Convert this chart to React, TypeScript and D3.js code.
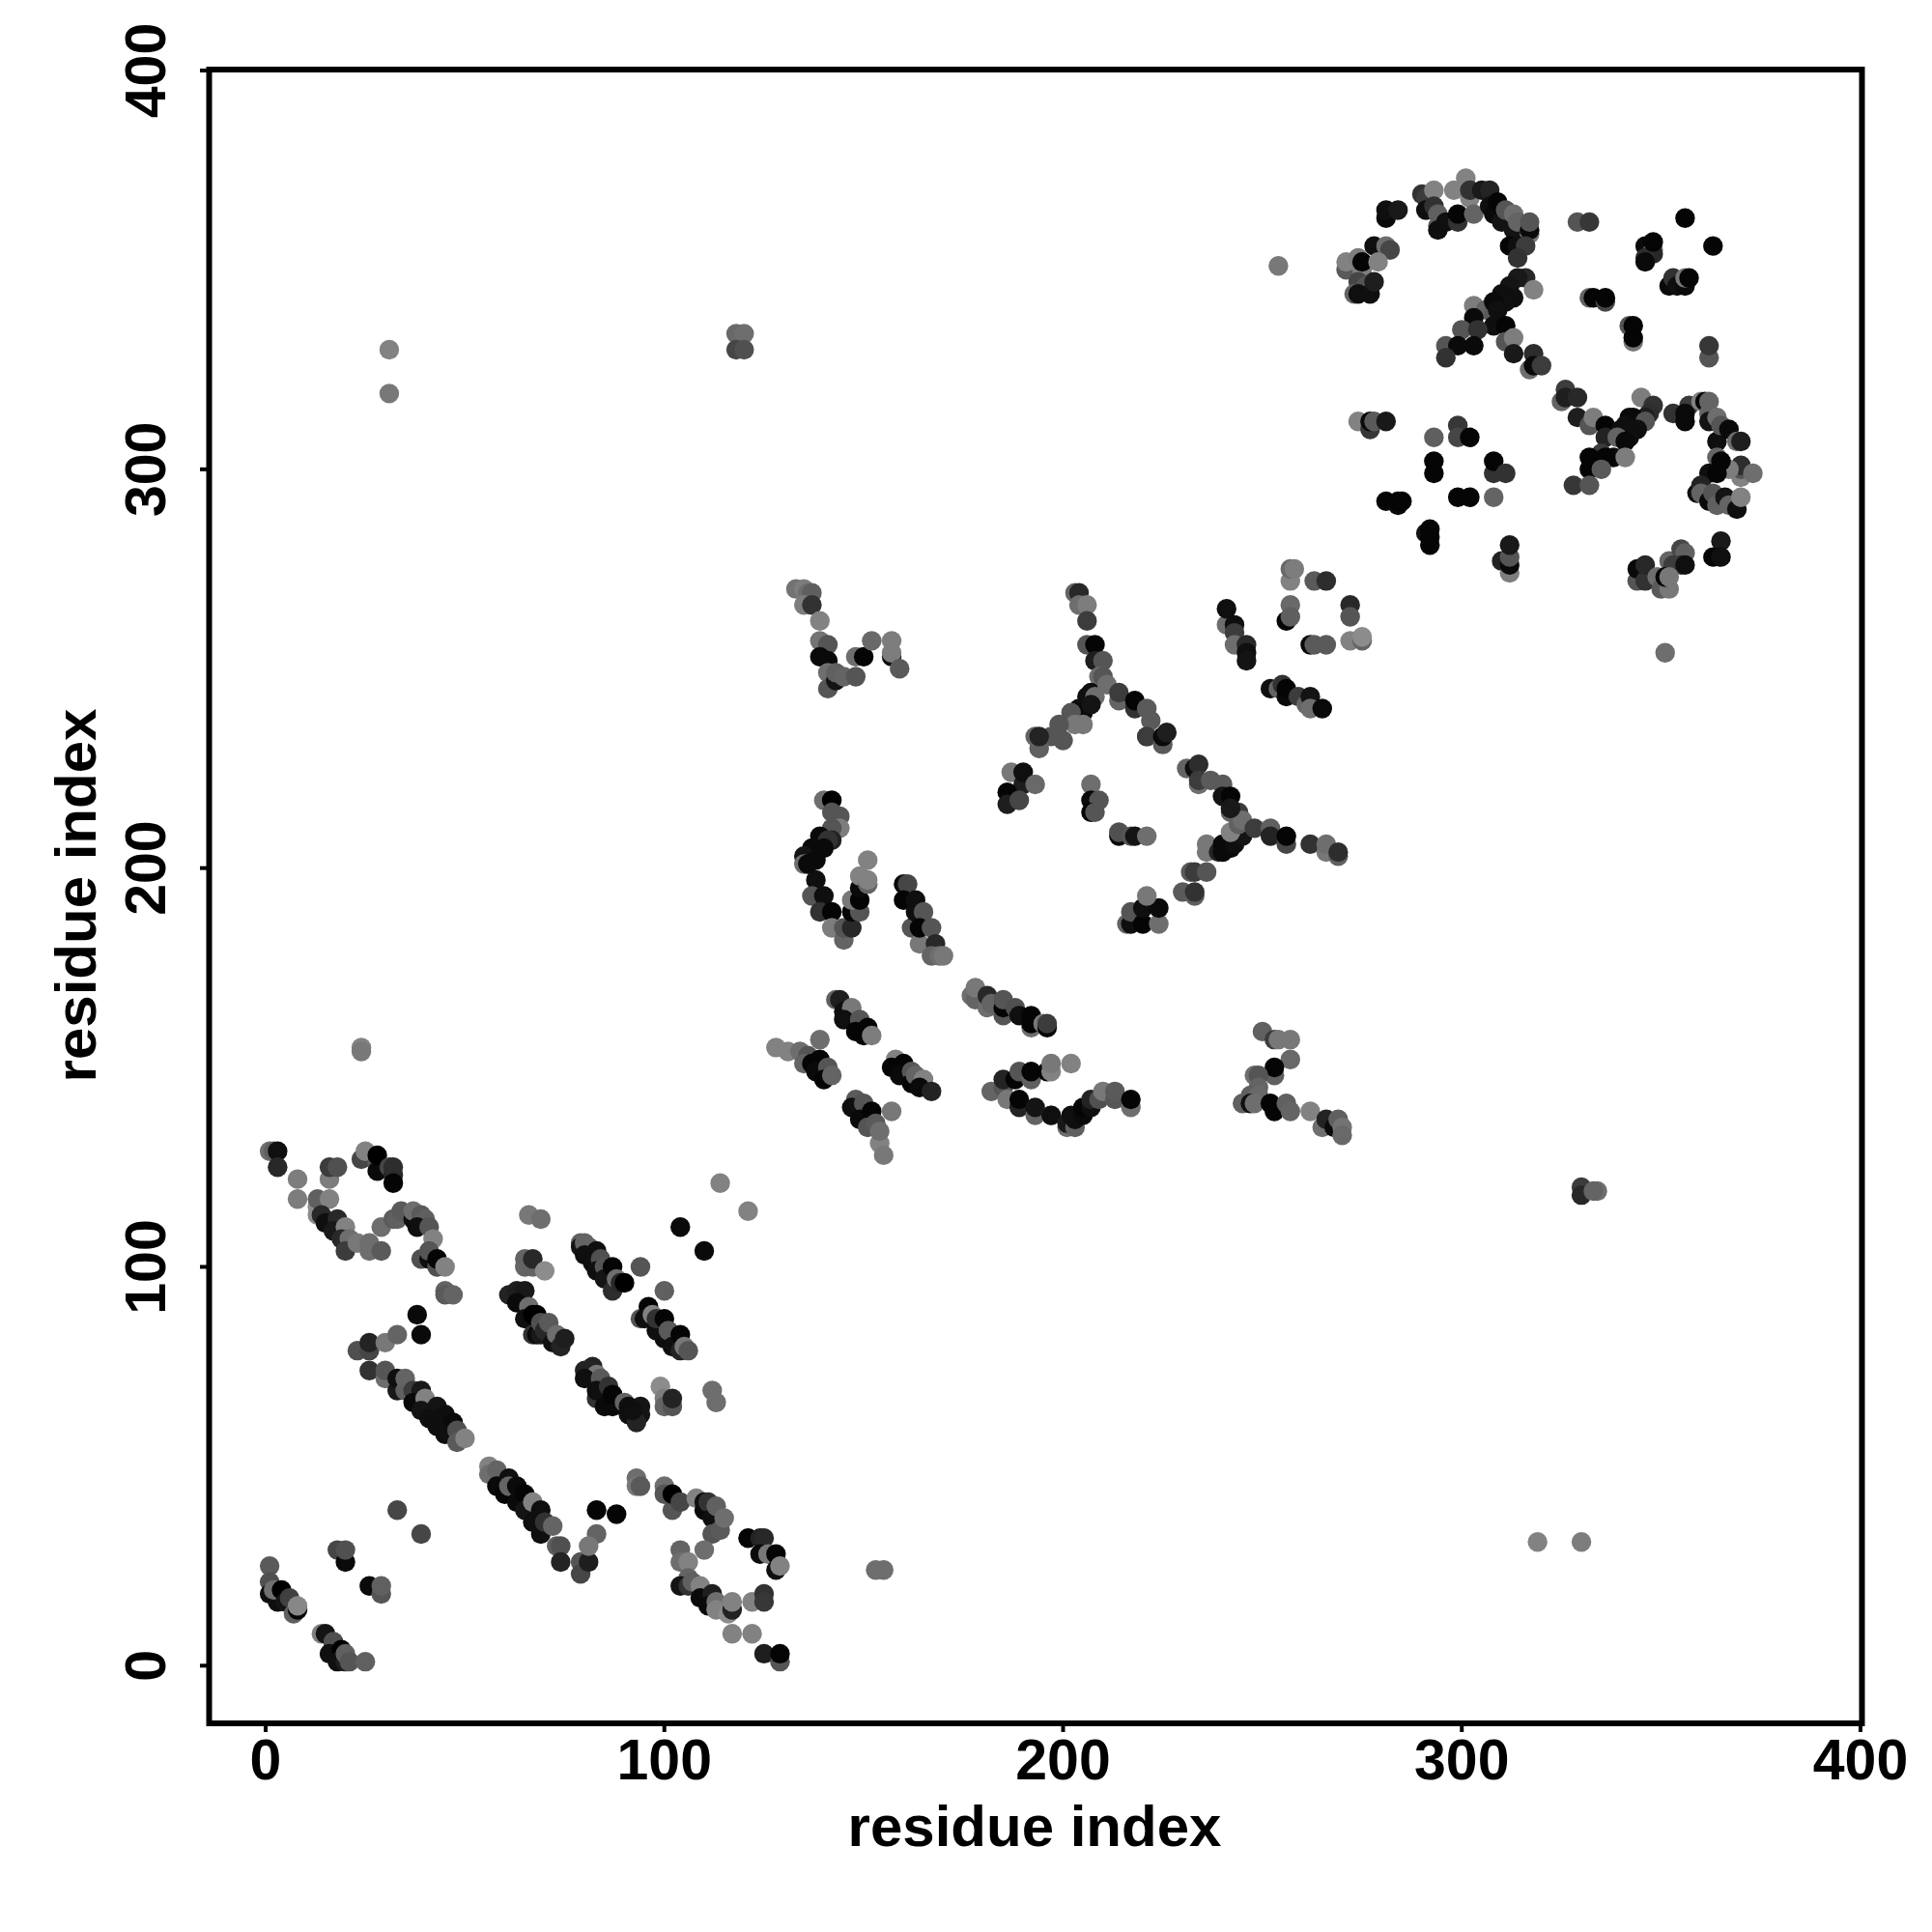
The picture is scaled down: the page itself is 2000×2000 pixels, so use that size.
import React from "react";
import * as d3 from "d3";

// each contact: [residue i, residue j, grey level 0-255]
const tickValues = [0, 100, 200, 300, 400];
const axisTitle = "residue index";

const isolated = [[31,330,130],[31,319,120],[118,334,105],[120,334,110],[118,330,70],[120,330,80],[24,155,130],[24,154,120],[254,351,120],[351,254,110],[330,120,60],[330,118,40],[334,119,110],[333,119,100],[319,31,130],[330,31,125],[153,24,110],[155,24,110],[114,121,130],[121,114,130]];

const cornerLow = [[1,25,90],[1,21,80],[1,18,15],[3,16,15],[2,19,112],[4,19,0],[5,16,20],[6,17,64],[7,13,96],[8,14,5],[8,15,135],[14,8,128],[15,8,20],[17,5,30],[17,6,80],[16,3,16],[19,4,0],[18,1,16],[20,1,30],[20,3,96],[21,1,85],[25,1,96],[18,29,70],[20,26,10],[20,29,80],[26,20,10],[29,18,85],[29,20,96],[33,39,70],[39,33,70]];

const helixA = [[23,79,80],[26,79,70],[26,81,35],[30,81,120],[33,83,100],[38,88,10],[39,83,10],[26,74,50],[30,72,110],[30,74,85],[33,69,25],[33,72,15],[35,69,96],[35,72,100],[37,69,60],[39,69,25],[37,66,10],[40,67,130],[39,64,20],[43,65,20],[41,62,15],[45,63,15],[43,60,15],[47,61,10],[45,58,15],[48,59,80],[48,56,90],[50,57,130]];

const arcA = [[1,129,110],[2,129,96],[3,129,15],[3,125,40],[8,122,125],[8,117,125],[16,122,125],[16,125,60],[18,125,80],[13,115,140],[13,113,140],[13,117,96],[16,117,130],[14,113,40],[15,111,15],[18,112,40],[17,109,25],[20,110,130],[19,107,40],[21,107,110],[20,104,60],[23,106,120],[26,104,110],[26,106,110],[29,104,90],[29,110,110],[32,112,90],[33,112,96],[34,114,90],[37,112,15],[37,114,110],[39,113,90],[40,112,96],[38,110,15],[41,110,85],[42,107,130],[39,102,80],[41,102,15],[41,104,85],[43,100,80],[43,102,5],[45,100,130],[45,94,100],[45,93,90],[47,93,100],[24,127,70],[25,129,130],[28,126,90],[28,124,10],[28,128,0],[31,125,70],[32,123,40],[32,125,45],[32,121,5]];

const bandB = [[66,113,120],[69,112,110],[65,102,100],[65,100,100],[67,100,100],[67,102,40],[70,99,140],[61,93,35],[63,94,30],[65,94,25],[63,91,10],[66,90,110],[65,87,15],[67,88,0],[68,88,0],[67,83,50],[68,83,10],[69,83,25],[69,86,80],[70,84,40],[71,86,90],[72,81,15],[73,83,110],[74,80,35],[75,82,30]];

const bandC = [[79,106,96],[79,105,20],[80,106,100],[81,105,100],[80,103,15],[83,104,15],[82,101,15],[84,102,80],[83,99,15],[85,100,85],[85,97,20],[87,100,5],[87,94,45],[88,97,110],[89,96,40],[90,96,0],[94,100,85],[100,94,96],[104,110,10],[110,104,10]];

const bandD = [[94,87,85],[96,90,5],[95,87,15],[97,88,130],[98,84,15],[98,87,50],[100,87,5],[100,82,15],[101,84,90],[102,80,15],[104,83,5],[104,79,35],[105,80,120],[106,79,85]];

const bandE = [[80,74,35],[82,75,35],[83,73,120],[80,72,15],[84,72,90],[83,67,50],[83,69,15],[86,70,50],[85,65,10],[87,65,10],[87,68,5],[90,66,100],[91,65,15],[94,65,20],[91,63,15],[94,63,20],[93,61,35],[92,64,15],[99,70,140],[100,67,125],[100,65,100],[102,65,85],[102,67,35],[112,69,110],[113,66,110]];

const helixF = [[56,50,130],[56,48,110],[58,49,100],[58,45,10],[61,47,15],[60,43,5],[61,45,100],[63,45,10],[63,41,10],[65,43,5],[65,39,20],[67,41,130],[67,36,15],[69,39,15],[69,33,15],[70,36,50],[72,35,100],[73,30,96],[74,30,80],[74,26,35],[83,39,5],[88,38,5],[83,33,100],[79,26,85],[79,23,70],[81,26,30],[81,30,120],[93,47,110],[93,45,120],[94,45,90]];

const arcG = [[100,45,110],[100,43,85],[102,39,85],[102,43,0],[104,41,70],[108,42,130],[110,39,10],[110,41,15],[111,41,50],[112,37,15],[113,40,96],[112,33,85],[114,34,90],[115,37,110],[110,29,110],[104,29,100],[104,26,110],[106,26,130],[106,22,100],[104,20,20],[106,20,50],[107,21,96],[109,20,130],[109,17,10],[112,18,30],[111,15,10],[113,16,110],[113,14,130],[116,13,140],[117,14,35],[117,16,130],[122,16,130],[125,18,50],[125,16,55],[117,8,130],[122,8,130],[125,3,30],[129,1,85],[129,3,5],[121,32,5],[124,32,35],[125,32,40],[124,28,10],[126,28,120],[128,28,5],[128,24,15],[129,25,130]];

const midH = [[143,167,96],[144,167,30],[145,164,15],[147,165,120],[145,162,15],[149,162,85],[148,159,5],[151,160,5],[150,158,5],[152,158,125],[139,157,110],[128,155,130],[131,154,130],[134,154,110],[136,153,85],[135,151,100],[137,151,5],[139,152,5],[138,149,10],[141,150,85],[140,147,5],[142,148,100],[148,142,90],[147,140,15],[150,141,85],[149,137,10],[152,139,5],[151,135,85],[153,136,90],[154,131,130],[155,128,120],[154,134,110],[157,139,120],[158,152,130],[157,150,5],[160,151,5],[159,148,10],[162,149,85],[162,146,5],[163,148,100],[165,147,130],[164,145,10],[167,144,35]];

const midI = [[177,168,110],[178,167,100],[178,170,120],[181,165,110],[181,168,40],[182,166,100],[185,163,85],[185,165,5],[185,167,85],[188,165,80],[189,163,15],[192,160,110],[192,161,5],[192,163,5],[195,161,120],[196,160,5],[196,161,60]];

const midJ = [[182,144,100],[185,145,85],[185,147,35],[186,142,120],[188,147,5],[189,149,85],[192,147,96],[192,149,5],[196,149,5],[197,149,130],[197,151,120],[202,151,130],[189,140,35],[189,142,5],[193,138,100],[193,140,20],[197,138,110],[197,138,15],[201,135,110],[201,136,25],[203,135,96],[203,137,15],[202,138,15],[205,138,10],[205,140,5],[207,140,15],[207,142,35],[209,142,80],[210,144,120],[213,142,85],[213,144,90],[217,140,110],[217,142,5]];

const midK = [[250,159,96],[253,157,60],[254,157,120],[257,157,120],[257,152,105],[253,148,96],[253,150,5],[248,148,110],[249,148,85],[249,145,100],[247,143,96],[249,143,105],[245,141,96],[247,141,15],[248,141,110],[252,141,5],[253,139,5],[256,141,96],[257,139,100],[262,139,130],[265,135,110],[266,137,35],[268,135,10],[269,137,96],[270,135,115],[270,133,105]];

const topL = [[133,270,115],[135,270,125],[136,269,110],[137,269,95],[135,266,125],[137,266,50],[139,262,130],[139,257,115],[141,256,85],[139,253,10],[141,252,10],[141,249,110],[141,245,85],[143,247,20],[143,249,96],[145,248,100],[148,248,85],[148,253,110],[150,253,5],[152,257,105],[157,253,15],[157,257,125],[157,254,125],[159,250,90]];

const lobeM = [[140,217,110],[142,217,0],[142,214,85],[144,213,85],[144,210,125],[142,210,85],[142,207,35],[139,208,10],[141,207,50],[137,205,10],[140,205,10],[135,203,20],[138,202,10],[135,201,110],[136,201,10],[138,197,15],[137,193,85],[140,193,15],[139,189,50],[142,189,5],[142,185,125],[145,182,100],[145,185,85],[147,185,40],[147,189,5],[149,189,85],[147,192,120],[149,192,5],[149,195,10],[149,198,130],[151,196,100],[151,197,130],[151,202,130]];

const bandN = [[160,196,10],[161,196,70],[160,192,5],[163,192,15],[162,185,85],[163,189,15],[165,189,85],[164,181,120],[164,185,5],[167,185,85],[168,181,40],[167,178,100],[169,178,110],[170,178,120]];

const forkO = [[203,269,100],[204,269,40],[204,266,110],[206,266,125],[206,262,60],[206,256,85],[208,256,5],[208,252,30],[210,252,85],[209,248,110],[210,248,85],[207,244,15],[206,243,15],[208,243,110],[211,246,110],[204,240,15],[205,239,10],[203,239,10],[207,241,20],[202,239,85],[203,236,120],[205,236,120],[199,236,85],[200,232,85],[197,233,85],[194,230,96],[193,233,100],[194,233,35],[214,242,100],[214,244,60],[218,240,50],[218,242,5],[221,240,90],[222,237,90],[221,233,110],[221,233,60],[225,231,90],[225,233,10],[226,234,30]];

const clusterP = [[187,224,120],[190,221,30],[190,224,15],[193,221,105],[186,219,5],[186,216,30],[189,217,70],[207,221,110],[207,217,10],[209,217,85],[207,214,5],[208,214,85],[214,208,10],[214,209,80],[217,208,85],[218,208,20],[221,208,110],[216,186,100],[217,186,15],[217,189,85],[220,186,5],[220,190,15],[224,186,110],[224,190,10],[221,193,120]];

const forkQ = [[230,194,90],[233,193,96],[233,194,50],[232,199,90],[233,199,60],[236,199,85],[236,206,120],[236,204,120],[239,204,35],[240,206,10],[240,204,10],[242,207,10],[242,205,10],[243,206,15],[244,208,15],[245,208,20],[242,209,130],[242,214,100],[244,214,60],[244,211,96],[245,212,110],[248,210,60],[252,210,96],[252,208,35],[256,206,70],[256,208,5],[262,206,50],[266,204,120],[266,206,110],[269,203,96],[269,204,45],[231,225,100],[233,225,15],[234,226,45],[234,221,110],[234,222,60],[237,222,90],[240,221,90],[240,218,20],[242,218,5],[242,215,25]];

const loopR = [[241,261,110],[241,265,15],[243,261,15],[243,259,60],[243,256,110],[246,256,40],[246,254,15],[246,252,20],[252,245,15],[254,245,100],[255,246,50],[256,243,10],[256,245,5],[259,243,60],[261,241,100],[262,243,20],[262,240,110],[265,240,10],[257,272,130],[257,275,105],[258,275,125],[263,272,90],[266,272,45],[256,262,5],[257,266,105],[257,263,95],[272,266,40],[272,263,85],[272,257,130],[275,257,100],[275,258,140],[262,256,10],[263,256,90],[266,256,90]];

const upperS = [[271,350,90],[271,352,130],[274,353,125],[275,350,125],[275,352,5],[278,356,15],[281,356,110],[282,355,70],[279,352,130],[274,347,70],[276,346,85],[273,344,100],[274,344,15],[277,344,15],[278,347,30],[281,363,10],[281,365,15],[284,365,25]];

const upperT = [[290,369,50],[291,368,60],[293,370,130],[291,365,15],[293,366,50],[294,364,96],[294,361,96],[294,360,15],[296,362,15],[298,370,130],[301,373,130],[302,368,130],[299,362,50],[299,364,5],[302,370,50],[303,364,100],[305,370,25],[307,370,35],[307,366,15],[308,364,10],[309,367,5],[310,362,20],[311,365,85],[313,360,20],[313,364,110],[314,362,100],[317,359,120],[317,360,10],[317,362,85],[312,356,5],[314,356,15],[316,356,60],[314,353,50]];

const upperU = [[303,341,125],[306,340,100],[308,339,90],[303,338,10],[316,348,40],[314,348,25],[312,346,20],[310,344,15],[313,343,15],[311,342,15],[308,342,10],[309,340,15],[318,345,130],[308,336,15],[311,336,5],[300,335,85],[304,335,50],[296,331,85],[299,331,10],[303,331,10],[296,328,50],[311,332,85],[313,333,125],[313,329,25],[317,325,110],[318,329,45],[318,326,10],[320,326,60]];

const upperV = [[329,362,85],[332,362,55],[356,363,5],[363,356,5],[346,356,10],[348,355,120],[348,354,40],[346,353,45],[346,352,10],[348,357,5],[352,346,10],[353,348,50],[354,346,15],[356,346,10],[356,348,120],[357,348,5],[332,343,100],[333,343,5],[336,342,70],[336,343,5],[342,336,85],[343,332,120],[343,333,5],[343,336,5],[362,328,85],[362,331,55]];

const loopW = [[274,312,130],[277,310,55],[277,312,10],[278,312,90],[281,312,25],[293,308,95],[299,311,55],[299,308,70],[302,308,5],[293,302,5],[293,299,5],[308,299,50],[308,302,5],[311,299,50],[308,293,100],[299,293,5],[302,293,5],[281,292,5],[284,291,10],[284,292,5],[285,292,5],[291,284,20],[292,281,5],[292,283,5],[292,285,5],[310,277,35],[312,274,125],[312,276,10],[312,278,85],[312,281,25]];

const sideX = [[326,320,60],[325,317,100],[326,318,30],[329,318,40],[329,313,30],[332,311,85],[333,313,125],[336,311,5],[336,308,35],[345,318,125],[348,316,50],[347,314,45],[346,313,30],[343,313,10],[342,313,10],[344,312,10],[346,312,85],[344,310,15],[341,311,15],[340,310,15],[342,308,15],[339,308,100],[341,307,10],[338,303,10],[335,304,60],[336,303,5],[341,303,125],[332,303,5],[332,300,5],[335,300,90],[328,296,55],[332,296,85]];

const sideY = [[353,314,50],[357,316,60],[356,314,10],[356,312,10],[360,317,130],[361,317,5],[362,317,100],[362,314,100],[362,312,20],[364,313,110],[364,307,15],[365,311,85],[367,310,10],[369,307,110],[370,307,30],[370,298,130],[370,300,85],[370,301,45],[367,300,125],[373,299,110],[364,303,100],[365,302,5],[362,299,15],[364,299,5],[359,294,15],[360,296,35],[360,294,100],[362,292,10],[363,294,85],[364,291,96],[366,293,20],[367,291,100],[369,290,15],[370,293,130],[365,282,25],[363,278,5],[365,278,15]];

const sideZ = [[344,272,85],[344,275,10],[346,272,50],[346,276,40],[349,273,110],[352,277,100],[350,270,90],[352,270,120],[355,280,70],[356,279,96],[355,276,50],[353,276,60],[356,276,15],[351,273,5],[352,273,120]];

const contacts = [...isolated, ...cornerLow, ...helixA, ...arcA, ...bandB, ...bandC, ...bandD, ...bandE, ...helixF, ...arcG, ...midH, ...midI, ...midJ, ...midK, ...topL, ...lobeM, ...bandN, ...forkO, ...clusterP, ...forkQ, ...loopR, ...upperS, ...upperT, ...upperU, ...upperV, ...loopW, ...sideX, ...sideY, ...sideZ];

export default function App() {
  const x = d3.scaleLinear().domain([0, 400]).range([275, 1926]);
  const y = d3.scaleLinear().domain([0, 400]).range([1724.3, 73]);
  const font = "'Liberation Sans', Arial, sans-serif";
  return (
    <svg width={2000} height={2000} style={{ position: "absolute", left: 0, top: 0, background: "#fff" }}>
      {contacts.map(([a, b, g], i) => (
        <circle key={i} cx={x(a)} cy={y(b)} r={10.2} fill={d3.rgb(g, g, g).formatHex()} />
      ))}
      <rect x={216.5} y={72} width={1711} height={1712} fill="none" stroke="#000" strokeWidth={6} />
      {tickValues.map((t) => (
        <g key={t}>
          <line x1={x(t)} x2={x(t)} y1={1784} y2={1793} stroke="#000" strokeWidth={4} />
          <line x1={207} x2={216} y1={y(t)} y2={y(t)} stroke="#000" strokeWidth={4} />
          <text x={x(t)} y={1842} textAnchor="middle" fontFamily={font} fontWeight="bold" fontSize={59} fill="#000">{t}</text>
          <text transform={`translate(171,${y(t)}) rotate(-90)`} textAnchor="middle" fontFamily={font} fontWeight="bold" fontSize={59} fill="#000">{t}</text>
        </g>
      ))}
      <text x={1071} y={1911} textAnchor="middle" fontFamily={font} fontWeight="bold" fontSize={60} fill="#000">{axisTitle}</text>
      <text transform="translate(99,927) rotate(-90)" textAnchor="middle" fontFamily={font} fontWeight="bold" fontSize={60} fill="#000">{axisTitle}</text>
    </svg>
  );
}
